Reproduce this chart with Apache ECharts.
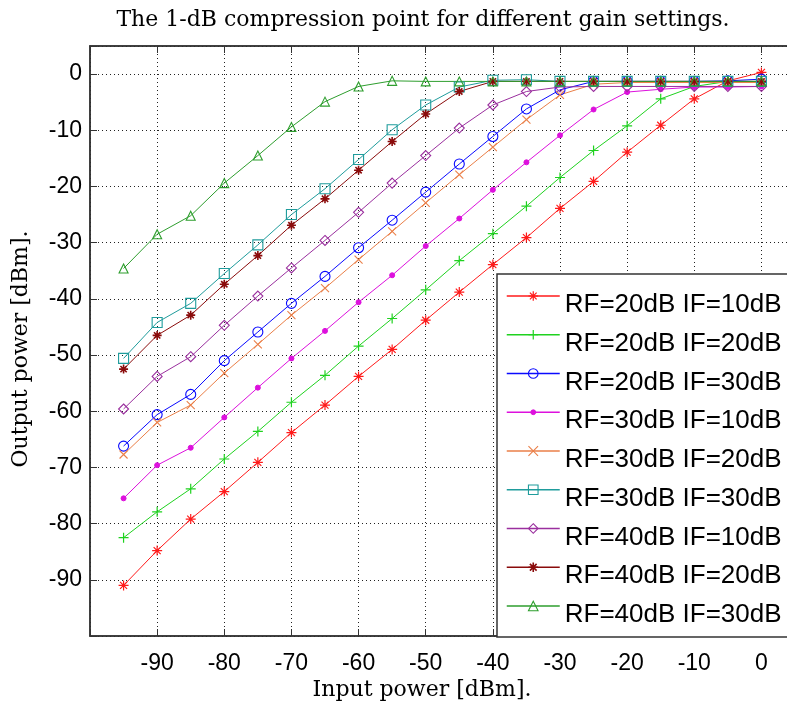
<!DOCTYPE html>
<html>
<head>
<meta charset="utf-8">
<script src="https://cdn.jsdelivr.net/npm/echarts@6/dist/echarts.min.js"></script>
<style>
html,body{margin:0;padding:0;background:#ffffff;}
#chart{width:787px;height:711px;}
</style>
</head>
<body>
<div id="chart"></div>
<script>
// ---- data ----
const inputPower = [-95, -90, -85, -80, -75, -70, -65, -60, -55, -50, -45, -40, -35, -30, -25, -20, -15, -10, -5, 0];

const rf20if10 = [-91.0, -84.8, -79.2, -74.3, -69.1, -63.8, -58.9, -53.8, -49.0, -43.8, -38.8, -33.9, -29.1, -23.9, -19.1, -13.9, -9.1, -4.4, -1.2, 0.3];
const rf20if20 = [-82.5, -77.9, -73.8, -68.5, -63.6, -58.4, -53.6, -48.4, -43.5, -38.4, -33.2, -28.4, -23.5, -18.4, -13.6, -9.2, -4.4, -2.2, -1.3, -1.4];
const rf20if30 = [-66.2, -60.6, -57.0, -51.0, -45.9, -40.8, -36.0, -30.9, -26.0, -21.0, -16.0, -11.1, -6.2, -2.8, -1.3, -1.3, -1.3, -1.3, -1.2, -0.9];
const rf30if10 = [-75.5, -69.6, -66.5, -61.1, -55.8, -50.6, -45.7, -40.6, -35.8, -30.6, -25.7, -20.6, -15.7, -10.9, -6.3, -3.2, -2.7, -2.3, -2.3, -2.2];
const rf30if20 = [-67.7, -62.0, -58.9, -53.2, -48.1, -42.9, -38.1, -33.0, -28.0, -22.9, -17.9, -13.0, -8.1, -3.7, -1.8, -1.5, -1.5, -1.5, -1.5, -1.5];
const rf30if30 = [-50.6, -44.2, -40.8, -35.5, -30.4, -25.0, -20.4, -15.2, -9.9, -5.5, -2.3, -1.1, -1.0, -1.3, -1.3, -1.3, -1.3, -1.3, -1.3, -1.3];
const rf40if10 = [-59.6, -53.8, -50.3, -44.7, -39.5, -34.5, -29.6, -24.6, -19.4, -14.5, -9.6, -5.5, -3.1, -2.3, -2.2, -2.2, -2.2, -2.2, -2.2, -2.2];
const rf40if20 = [-52.5, -46.5, -42.9, -37.4, -32.3, -26.9, -22.2, -17.1, -12.0, -7.1, -3.1, -1.3, -1.3, -1.3, -1.3, -1.3, -1.3, -1.3, -1.3, -1.3];
const rf40if30 = [-34.6, -28.5, -25.2, -19.4, -14.5, -9.4, -4.9, -2.2, -1.2, -1.3, -1.3, -1.3, -1.3, -1.3, -1.3, -1.3, -1.3, -1.3, -1.3, -1.3];

const seriesNames = [
  'RF=20dB IF=10dB', 'RF=20dB IF=20dB', 'RF=20dB IF=30dB',
  'RF=30dB IF=10dB', 'RF=30dB IF=20dB', 'RF=30dB IF=30dB',
  'RF=40dB IF=10dB', 'RF=40dB IF=20dB', 'RF=40dB IF=30dB'
];
const seriesValues = [rf20if10, rf20if20, rf20if30, rf30if10, rf30if20, rf30if30, rf40if10, rf40if20, rf40if30];

const xTickLabels = [-90, -80, -70, -60, -50, -40, -30, -20, -10, 0];
const yTickLabels = [0, -10, -20, -30, -40, -50, -60, -70, -80, -90];

const titleText = 'The 1-dB compression point for different gain settings.';
const xAxisName = 'Input power [dBm].';
const yAxisName = 'Output power [dBm].';

// ---- styles ----
const ASTERISK = 'path://M5 0L5 10M0 5L10 5M1.5 1.5L8.5 8.5M8.5 1.5L1.5 8.5';
const PLUS = 'path://M5 0L5 10M0 5L10 5';
const CROSS = 'path://M0 0L10 10M10 0L0 10';
const DOT = 'path://M0 0M10 10M2.5 5A2.5 2.5 0 1 0 7.5 5A2.5 2.5 0 1 0 2.5 5Z';
const NOFILL = 'rgba(0,0,0,0)';

const styles = [
  {color: '#ff1a1a', symbol: ASTERISK, size: 10, fill: NOFILL, bw: 1.2},
  {color: '#1fd21f', symbol: PLUS, size: 10, fill: NOFILL, bw: 1.2},
  {color: '#0a0aff', symbol: 'circle', size: 10, fill: NOFILL, bw: 1.1},
  {color: '#dd10dd', symbol: DOT, size: 10, fill: '#dd10dd', bw: 1},
  {color: '#ea7f48', symbol: CROSS, size: 8, fill: NOFILL, bw: 1.1},
  {color: '#1f9c9c', symbol: 'rect', size: 10, fill: NOFILL, bw: 1.1},
  {color: '#9a2f9e', symbol: 'diamond', size: 10, fill: NOFILL, bw: 1.1},
  {color: '#8a0b0b', symbol: ASTERISK, size: 9, fill: '#8a0b0b', bw: 1.6},
  {color: '#2e9e2e', symbol: 'triangle', size: 9, fill: NOFILL, bw: 1.1}
];

const series = seriesNames.map((name, i) => ({
  name: name,
  type: 'line',
  data: inputPower.map((x, j) => [x, seriesValues[i][j]]),
  symbol: styles[i].symbol,
  symbolSize: styles[i].size,
  showAllSymbol: true,
  lineStyle: {color: styles[i].color, width: 1},
  itemStyle: {color: styles[i].fill, borderColor: styles[i].color, borderWidth: styles[i].bw},
  emphasis: {disabled: true},
  clip: true
}));

const legendData = seriesNames.map((name, i) => ({
  name: name,
  itemStyle: {color: styles[i].fill, borderColor: styles[i].color, borderWidth: styles[i].bw},
  lineStyle: {color: styles[i].color, width: 1.5}
}));

const axisColor = '#333333';
const labelFont = 'Liberation Sans';
const serifFont = '22px "DejaVu Serif"';

const chart = echarts.init(document.getElementById('chart'), null, {renderer: 'canvas'});
chart.setOption({
  animation: false,
  backgroundColor: '#ffffff',
  grid: {
    left: 90, top: 46, right: -8, bottom: 75,
    containLabel: false, outerBoundsMode: 'none',
    show: true, borderColor: axisColor, borderWidth: 1.5, backgroundColor: 'transparent'
  },
  xAxis: [{
    type: 'value', min: -100, max: 5, interval: 10,
    axisLine: {show: true, onZero: false, lineStyle: {color: axisColor, width: 1.5}},
    axisTick: {show: true, inside: true, length: 7, lineStyle: {color: axisColor, width: 1}},
    axisLabel: {
      margin: 16, color: '#000', fontFamily: labelFont, fontSize: 23,
      formatter: v => (xTickLabels.indexOf(v) >= 0 ? String(v) : '')
    },
    splitLine: {show: true, lineStyle: {color: '#222', type: [1, 3], width: 1}}
  }, {
    type: 'value', min: -100, max: 5, interval: 10, position: 'top',
    axisLine: {show: true, onZero: false, lineStyle: {color: axisColor, width: 1.5}},
    axisTick: {show: true, inside: true, length: 7, lineStyle: {color: axisColor, width: 1}},
    axisLabel: {show: false},
    splitLine: {show: false}
  }],
  yAxis: [{
    type: 'value', min: -100, max: 5, interval: 10,
    axisLine: {show: true, onZero: false, lineStyle: {color: axisColor, width: 1.5}},
    axisTick: {show: true, inside: true, length: 7, lineStyle: {color: axisColor, width: 1}},
    axisLabel: {
      margin: 8, color: '#000', fontFamily: labelFont, fontSize: 23,
      padding: [5, 0, 0, 0],
      formatter: v => (yTickLabels.indexOf(v) >= 0 ? String(v) : '')
    },
    splitLine: {show: true, lineStyle: {color: '#222', type: [1, 3], width: 1}}
  }],
  legend: {
    data: legendData,
    orient: 'vertical',
    left: 497, top: 274,
    itemWidth: 53, itemHeight: 12, itemGap: -5.25,
    padding: [0, 20, 9, 9],
    backgroundColor: '#ffffff',
    borderColor: axisColor, borderWidth: 1.5, borderRadius: 0,
    selectedMode: false,
    formatter: name => '{t|' + name + '}',
    textStyle: {
      color: '#000', fontFamily: labelFont, fontSize: 26,
      rich: {t: {color: '#000', fontFamily: labelFont, fontSize: 26, lineHeight: 26, padding: [18, 0, 0, 0]}}
    }
  },
  graphic: [
    {type: 'text', x: 423, y: 20, silent: true,
     style: {text: titleText, font: serifFont, fill: '#000', align: 'center', verticalAlign: 'middle'}},
    {type: 'text', x: 422, y: 690, silent: true,
     style: {text: xAxisName, font: serifFont, fill: '#000', align: 'center', verticalAlign: 'middle'}},
    {type: 'text', x: 21, y: 349, rotation: Math.PI / 2, silent: true,
     style: {text: yAxisName, font: serifFont, fill: '#000', align: 'center', verticalAlign: 'middle'}}
  ],
  series: series
});
</script>
</body>
</html>
